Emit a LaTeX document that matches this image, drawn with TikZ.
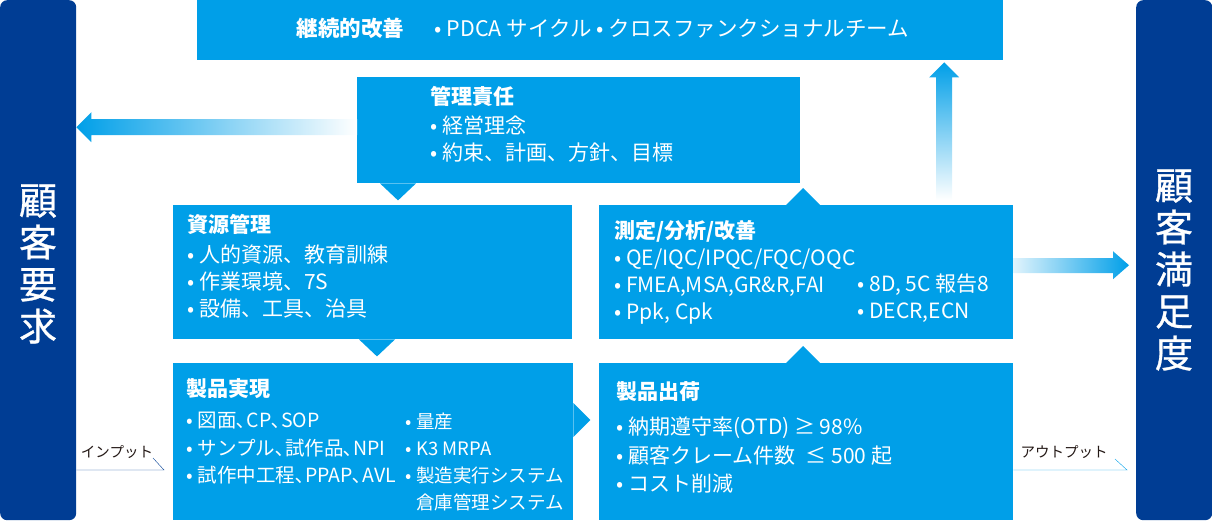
\documentclass[tikz,border=0pt]{standalone}
\usepackage{fontspec}
\setmainfont{Noto Sans CJK JP}
\usetikzlibrary{calc,positioning}
\definecolor{qblue}{HTML}{009FE8}
\definecolor{qnavy}{HTML}{003D94}
\definecolor{qlabel}{HTML}{231815}
\newcommand{\bul}{\textbullet\hspace{5pt}}

\tikzset{
  bluebox/.style={fill=qblue, inner sep=0pt, anchor=north west},
  sidebar/.style={fill=qnavy, rounded corners=7pt, inner sep=0pt, anchor=north west,
    minimum width=76pt, minimum height=520pt},
  boxtext/.style={text=white, inner sep=0pt, anchor=north west, align=left,
    font=\fontsize{21}{27}\selectfont},
  bartext/.style={text=white, align=center, inner sep=0pt,
    font=\fontsize{38}{42}\selectfont\addfontfeature{FakeBold=0.8}},
  iolabel/.style={text=qlabel, inner sep=0pt, font=\fontsize{14.5}{16}\selectfont},
}

\begin{document}
\begin{tikzpicture}[x=1pt,y=-1pt]
\useasboundingbox (0,0) rectangle (1212,520);
% side bars
\node[sidebar] (lbar) at (0,0) {};
\node[sidebar] (rbar) at (1136,0) {};
\node[bartext] (lbartext) at (38,264) {顧\\客\\要\\求};
\node[bartext] (rbartext) at (1174,270) {顧\\客\\満\\足\\度};
% boxes
\node[bluebox, minimum width=806pt, minimum height=60pt] (cibar) at (197,0) {};
\node[bluebox, minimum width=443pt, minimum height=106pt] (mgmt) at (357,77) {};
\node[bluebox, minimum width=399pt, minimum height=134pt] (resrc) at (173,205) {};
\node[bluebox, minimum width=414pt, minimum height=134pt] (measure) at (599,205) {};
\node[bluebox, minimum width=400pt, minimum height=157pt] (realize) at (173,363) {};
\node[bluebox, minimum width=414pt, minimum height=157pt] (ship) at (599,363) {};
% pointers
\fill[qblue] ([xshift=23pt]mgmt.south west) -- ++(18,17) -- ++(18,-17) -- cycle;
\fill[qblue] ([xshift=186pt]resrc.south west) -- ++(18,17) -- ++(18,-17) -- cycle;
\fill[qblue] ([xshift=187pt]measure.north west) -- ++(17,-17) -- ++(17,17) -- cycle;
\fill[qblue] ([xshift=187pt]ship.north west) -- ++(17,-17) -- ++(17,17) -- cycle;
\fill[qblue] ([yshift=-40pt]realize.north east) -- ++(17,17) -- ++(-17,17) -- cycle;
% box texts
\node[text=white, inner sep=0pt, font=\fontsize{21.5}{24}\selectfont] (citext) at (603,28)
  {{\bfseries 継続的改善}\hspace{30pt}\bul PDCA サイクル \bul クロスファンクショナルチーム};
\node[boxtext] (mgmttext) at (430,86)
  {{\bfseries 管理責任}\\[2pt] \bul 経営理念\\ \bul 約束、計画、方針、目標};
\node[boxtext] (resrctext) at (187,214)
  {{\bfseries 資源管理}\\[3pt] \bul 人的資源、教育訓練\\ \bul 作業環境、7S\\ \bul 設備、工具、治具};
\node[boxtext] (meastext) at (614,220)
  {{\bfseries 測定/分析/改善}\\ \bul QE/IQC/IPQC/FQC/OQC\\ \bul FMEA,MSA,GR\&R,FAI\\ \bul Ppk, Cpk};
\node[boxtext] (meastextb) at (857,274)
  {\bul 8D, 5C 報告8\\ \bul DECR,ECN};
\node[boxtext] (realtitle) at (186,378) {\bfseries 製品実現};
\node[boxtext, font=\fontsize{19.5}{27.5}\selectfont] (realtext) at (186,412)
  {\bul 図面､CP､SOP\\ \bul サンプル､試作品､NPI\\ \bul 試作中工程､PPAP､AVL};
\node[boxtext, font=\fontsize{18.5}{27}\selectfont] (realtextb) at (405,413)
  {\bul 量産\\ \bul K3 MRPA\\ \bul 製造実行システム\\ \hphantom{\bul}倉庫管理システム};
\node[boxtext, font=\fontsize{21}{28.5}\selectfont] (shiptext) at (616,381)
  {{\bfseries 製品出荷}\\[7pt] \bul 納期遵守率(OTD) ≥ 98\%\\ \bul 顧客クレーム件数\hspace{10pt}≤ 500 起\\ \bul コスト削減};
% gradient arrows
\coordinate (lb) at ([yshift=3pt]mgmt.west);
\coordinate (lt) at (lbar.east |- lb);
\shade[left color=qblue, right color=white]
  (lt) -- ++(15,-15) -- ++(0,7) -- ([yshift=8pt]lb) -- ([yshift=-8pt]lb)
  -- ($(lt)+(15,8)$) -- ++(0,7) -- cycle;
\coordinate (ub) at ([xshift=138pt,yshift=5pt]measure.north);
\coordinate (ut) at ([yshift=-2pt]ub |- cibar.south);
\shade[top color=qblue, bottom color=white]
  (ut) -- ++(15,15) -- ++(-7,0) -- ([xshift=8pt]ub) -- ([xshift=-8pt]ub)
  -- ($(ut)+(-8,15)$) -- ++(-7,0) -- cycle;
\coordinate (rb) at ([yshift=7pt]measure.east);
\coordinate (rt) at ($(rbar.west |- rb)+(-7,0)$);
\shade[left color=qblue!12, right color=qblue]
  (rt) -- ++(-16,-14) -- ++(0,7) -- ([yshift=7pt]rb) -- ([yshift=-8pt]rb)
  -- ($(rt)+(-16,8)$) -- ++(0,6) -- cycle;
% input / output
\node[iolabel] (inlabel) at (117,452) {インプット};
\node[iolabel] (outlabel) at (1064,452) {アウトプット};
\coordinate (inend) at ($(realize.west |- 0,470)+(-9,0)$);
\draw[qnavy] (lbar.east |- inend) -- (inend) -- ++(-11,-12);
\coordinate (outend) at ($(rbar.west |- 0,470)+(-9,0)$);
\draw[qblue] (ship.east |- outend) -- (outend) -- ++(-12,-11);
\end{tikzpicture}
\end{document}
